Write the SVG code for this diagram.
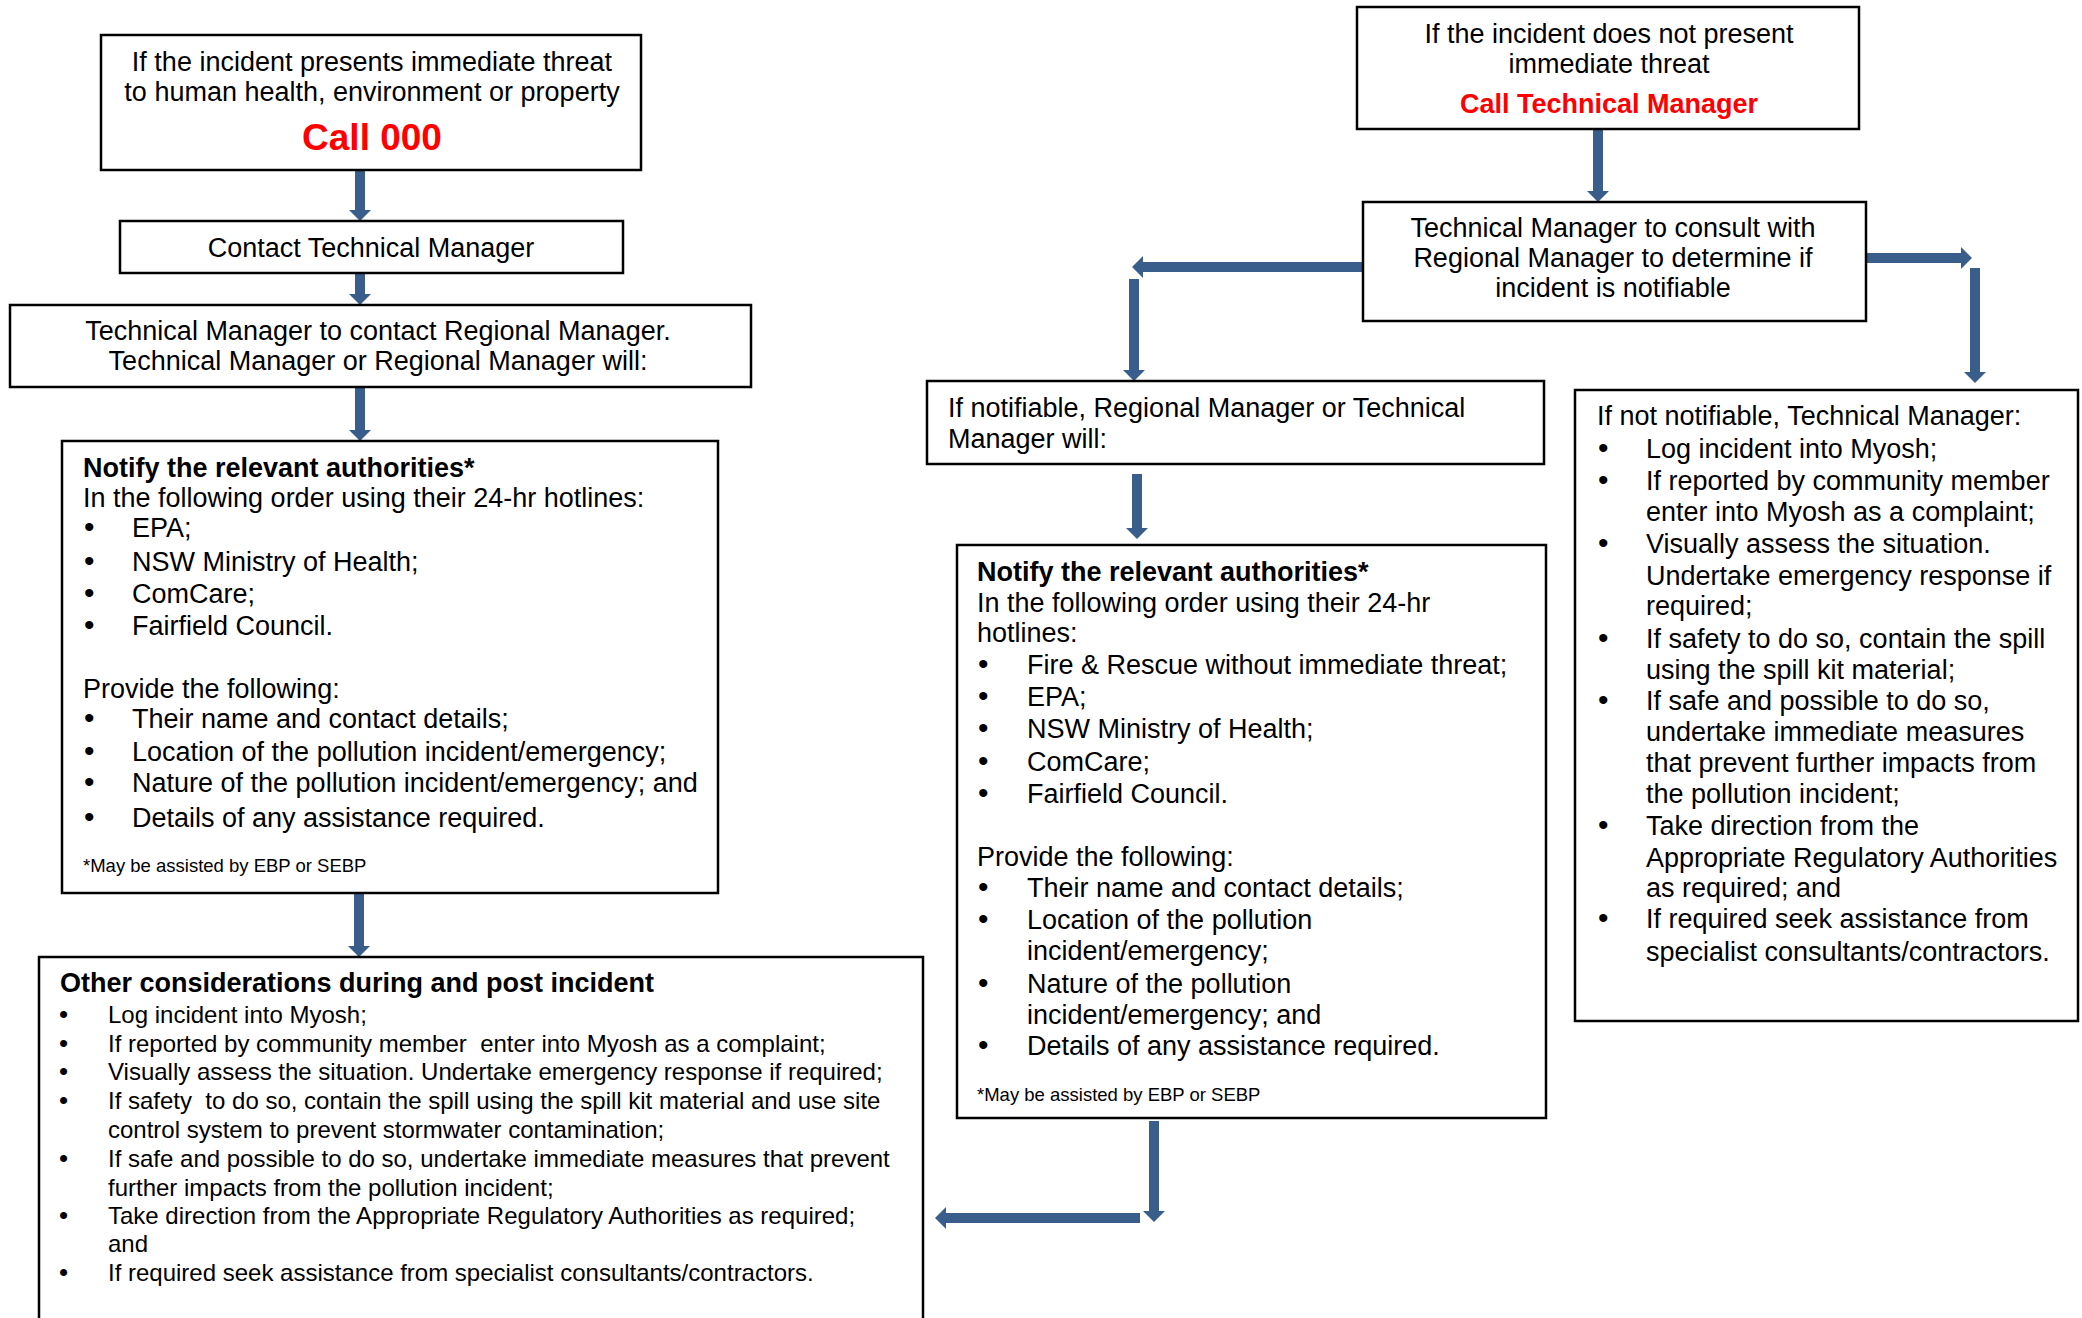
<svg xmlns="http://www.w3.org/2000/svg" width="2082" height="1318" viewBox="0 0 2082 1318">
<defs>
<marker id="ah" viewBox="0 0 5 10" markerWidth="1.1" markerHeight="2.2" refX="0" refY="5" orient="auto" markerUnits="strokeWidth">
<path d="M0,0 L5,5 L0,10 z" fill="#3A5E8C"/>
</marker>
<style>
.box{fill:#fff;stroke:#000;stroke-width:2.5}
text{font-family:"Liberation Sans",Arial,sans-serif;fill:#000}
.t{font-size:27px}
.c{text-anchor:middle}
.b{font-weight:bold}
.red{fill:#FF0000;font-weight:bold}
.s{font-size:18.5px}
.e{font-size:24px}
.bl{font-size:30px}
.be{font-size:26px}
.arr{stroke:#3A5E8C;stroke-width:10;fill:none;marker-end:url(#ah)}
</style>
</defs>
<rect width="2082" height="1318" fill="#fff"/>
<g id="connectors">
<line class="arr" x1="360" y1="170" x2="360" y2="210"/>
<line class="arr" x1="360" y1="272" x2="360" y2="294"/>
<line class="arr" x1="360" y1="387" x2="360" y2="430"/>
<line class="arr" x1="359" y1="893" x2="359" y2="946"/>
<line class="arr" x1="1598" y1="129" x2="1598" y2="191"/>
<line class="arr" x1="1362" y1="267" x2="1143" y2="267"/>
<line class="arr" x1="1134" y1="279" x2="1134" y2="370"/>
<line class="arr" x1="1867" y1="258" x2="1961" y2="258"/>
<line class="arr" x1="1975" y1="268" x2="1975" y2="372"/>
<line class="arr" x1="1137" y1="474" x2="1137" y2="528"/>
<line class="arr" x1="1154" y1="1121" x2="1154" y2="1211"/>
<line class="arr" x1="1140" y1="1218" x2="946" y2="1218"/>
</g>
<g id="node-threat">
<rect class="box" x="101" y="35" width="540" height="135"/>
<text class="t c" x="372" y="71">If the incident presents immediate threat</text>
<text class="t c" x="372" y="101">to human health, environment or property</text>
<text class="red c" x="372" y="150" font-size="37">Call 000</text>
</g>
<g id="node-contact-tm">
<rect class="box" x="120" y="221" width="503" height="52"/>
<text class="t c" x="371" y="257">Contact Technical Manager</text>
</g>
<g id="node-tm-rm">
<rect class="box" x="10" y="305" width="741" height="82"/>
<text class="t c" x="378" y="340">Technical Manager to contact Regional Manager.</text>
<text class="t c" x="378" y="370">Technical Manager or Regional Manager will:</text>
</g>
<g id="node-notify-left">
<rect class="box" x="62" y="441" width="656" height="452"/>
<text class="t b" x="83" y="477">Notify the relevant authorities*</text>
<text class="t" x="83" y="507">In the following order using their 24-hr hotlines:</text>
<text class="t" y="537"><tspan class="bl" x="84">•</tspan><tspan x="132">EPA;</tspan></text>
<text class="t" y="571"><tspan class="bl" x="84">•</tspan><tspan x="132">NSW Ministry of Health;</tspan></text>
<text class="t" y="603"><tspan class="bl" x="84">•</tspan><tspan x="132">ComCare;</tspan></text>
<text class="t" y="635"><tspan class="bl" x="84">•</tspan><tspan x="132">Fairfield Council.</tspan></text>
<text class="t" x="83" y="698">Provide the following:</text>
<text class="t" y="728"><tspan class="bl" x="84">•</tspan><tspan x="132">Their name and contact details;</tspan></text>
<text class="t" y="761"><tspan class="bl" x="84">•</tspan><tspan x="132">Location of the pollution incident/emergency;</tspan></text>
<text class="t" y="792"><tspan class="bl" x="84">•</tspan><tspan x="132">Nature of the pollution incident/emergency; and</tspan></text>
<text class="t" y="827"><tspan class="bl" x="84">•</tspan><tspan x="132">Details of any assistance required.</tspan></text>
<text class="s" x="83" y="872">*May be assisted by EBP or SEBP</text>
</g>
<g id="node-other">
<rect class="box" x="39" y="957" width="884" height="420"/>
<text class="t b" x="60" y="992">Other considerations during and post incident</text>
<text class="e" y="1023"><tspan class="be" x="59">•</tspan><tspan x="108">Log incident into Myosh;</tspan></text>
<text class="e" y="1052" xml:space="preserve"><tspan class="be" x="59">•</tspan><tspan x="108">If reported by community member  enter into Myosh as a complaint;</tspan></text>
<text class="e" y="1080"><tspan class="be" x="59">•</tspan><tspan x="108">Visually assess the situation. Undertake emergency response if required;</tspan></text>
<text class="e" y="1109" xml:space="preserve"><tspan class="be" x="59">•</tspan><tspan x="108">If safety  to do so, contain the spill using the spill kit material and use site</tspan></text>
<text class="e" x="108" y="1138">control system to prevent stormwater contamination;</text>
<text class="e" y="1167"><tspan class="be" x="59">•</tspan><tspan x="108">If safe and possible to do so, undertake immediate measures that prevent</tspan></text>
<text class="e" x="108" y="1196">further impacts from the pollution incident;</text>
<text class="e" y="1224"><tspan class="be" x="59">•</tspan><tspan x="108">Take direction from the Appropriate Regulatory Authorities as required;</tspan></text>
<text class="e" x="108" y="1252">and</text>
<text class="e" y="1281"><tspan class="be" x="59">•</tspan><tspan x="108">If required seek assistance from specialist consultants/contractors.</tspan></text>
</g>
<g id="node-no-threat">
<rect class="box" x="1357" y="7" width="502" height="122"/>
<text class="t c" x="1609" y="43">If the incident does not present</text>
<text class="t c" x="1609" y="73">immediate threat</text>
<text class="t red c" x="1609" y="113">Call Technical Manager</text>
</g>
<g id="node-consult">
<rect class="box" x="1363" y="202" width="503" height="119"/>
<text class="t c" x="1613" y="237">Technical Manager to consult with</text>
<text class="t c" x="1613" y="267">Regional Manager to determine if</text>
<text class="t c" x="1613" y="297">incident is notifiable</text>
</g>
<g id="node-notifiable">
<rect class="box" x="927" y="381" width="617" height="83"/>
<text class="t" x="948" y="417">If notifiable, Regional Manager or Technical</text>
<text class="t" x="948" y="448">Manager will:</text>
</g>
<g id="node-notify-right">
<rect class="box" x="957" y="545" width="589" height="573"/>
<text class="t b" x="977" y="581">Notify the relevant authorities*</text>
<text class="t" x="977" y="612">In the following order using their 24-hr</text>
<text class="t" x="977" y="642">hotlines:</text>
<text class="t" y="674"><tspan class="bl" x="978">•</tspan><tspan x="1027">Fire &amp; Rescue without immediate threat;</tspan></text>
<text class="t" y="706"><tspan class="bl" x="978">•</tspan><tspan x="1027">EPA;</tspan></text>
<text class="t" y="738"><tspan class="bl" x="978">•</tspan><tspan x="1027">NSW Ministry of Health;</tspan></text>
<text class="t" y="771"><tspan class="bl" x="978">•</tspan><tspan x="1027">ComCare;</tspan></text>
<text class="t" y="803"><tspan class="bl" x="978">•</tspan><tspan x="1027">Fairfield Council.</tspan></text>
<text class="t" x="977" y="866">Provide the following:</text>
<text class="t" y="897"><tspan class="bl" x="978">•</tspan><tspan x="1027">Their name and contact details;</tspan></text>
<text class="t" y="929"><tspan class="bl" x="978">•</tspan><tspan x="1027">Location of the pollution</tspan></text>
<text class="t" x="1027" y="960">incident/emergency;</text>
<text class="t" y="993"><tspan class="bl" x="978">•</tspan><tspan x="1027">Nature of the pollution</tspan></text>
<text class="t" x="1027" y="1024">incident/emergency; and</text>
<text class="t" y="1055"><tspan class="bl" x="978">•</tspan><tspan x="1027">Details of any assistance required.</tspan></text>
<text class="s" x="977" y="1101">*May be assisted by EBP or SEBP</text>
</g>
<g id="node-not-notifiable">
<rect class="box" x="1575" y="390" width="503" height="631"/>
<text class="t" x="1597" y="425">If not notifiable, Technical Manager:</text>
<text class="t" y="458"><tspan class="bl" x="1598">•</tspan><tspan x="1646">Log incident into Myosh;</tspan></text>
<text class="t" y="490"><tspan class="bl" x="1598">•</tspan><tspan x="1646">If reported by community member</tspan></text>
<text class="t" x="1646" y="521">enter into Myosh as a complaint;</text>
<text class="t" y="553"><tspan class="bl" x="1598">•</tspan><tspan x="1646">Visually assess the situation.</tspan></text>
<text class="t" x="1646" y="585">Undertake emergency response if</text>
<text class="t" x="1646" y="615">required;</text>
<text class="t" y="648"><tspan class="bl" x="1598">•</tspan><tspan x="1646">If safety to do so, contain the spill</tspan></text>
<text class="t" x="1646" y="679">using the spill kit material;</text>
<text class="t" y="710"><tspan class="bl" x="1598">•</tspan><tspan x="1646">If safe and possible to do so,</tspan></text>
<text class="t" x="1646" y="741">undertake immediate measures</text>
<text class="t" x="1646" y="772">that prevent further impacts from</text>
<text class="t" x="1646" y="803">the pollution incident;</text>
<text class="t" y="835"><tspan class="bl" x="1598">•</tspan><tspan x="1646">Take direction from the</tspan></text>
<text class="t" x="1646" y="867">Appropriate Regulatory Authorities</text>
<text class="t" x="1646" y="897">as required; and</text>
<text class="t" y="928"><tspan class="bl" x="1598">•</tspan><tspan x="1646">If required seek assistance from</tspan></text>
<text class="t" x="1646" y="961">specialist consultants/contractors.</text>
</g>
</svg>
